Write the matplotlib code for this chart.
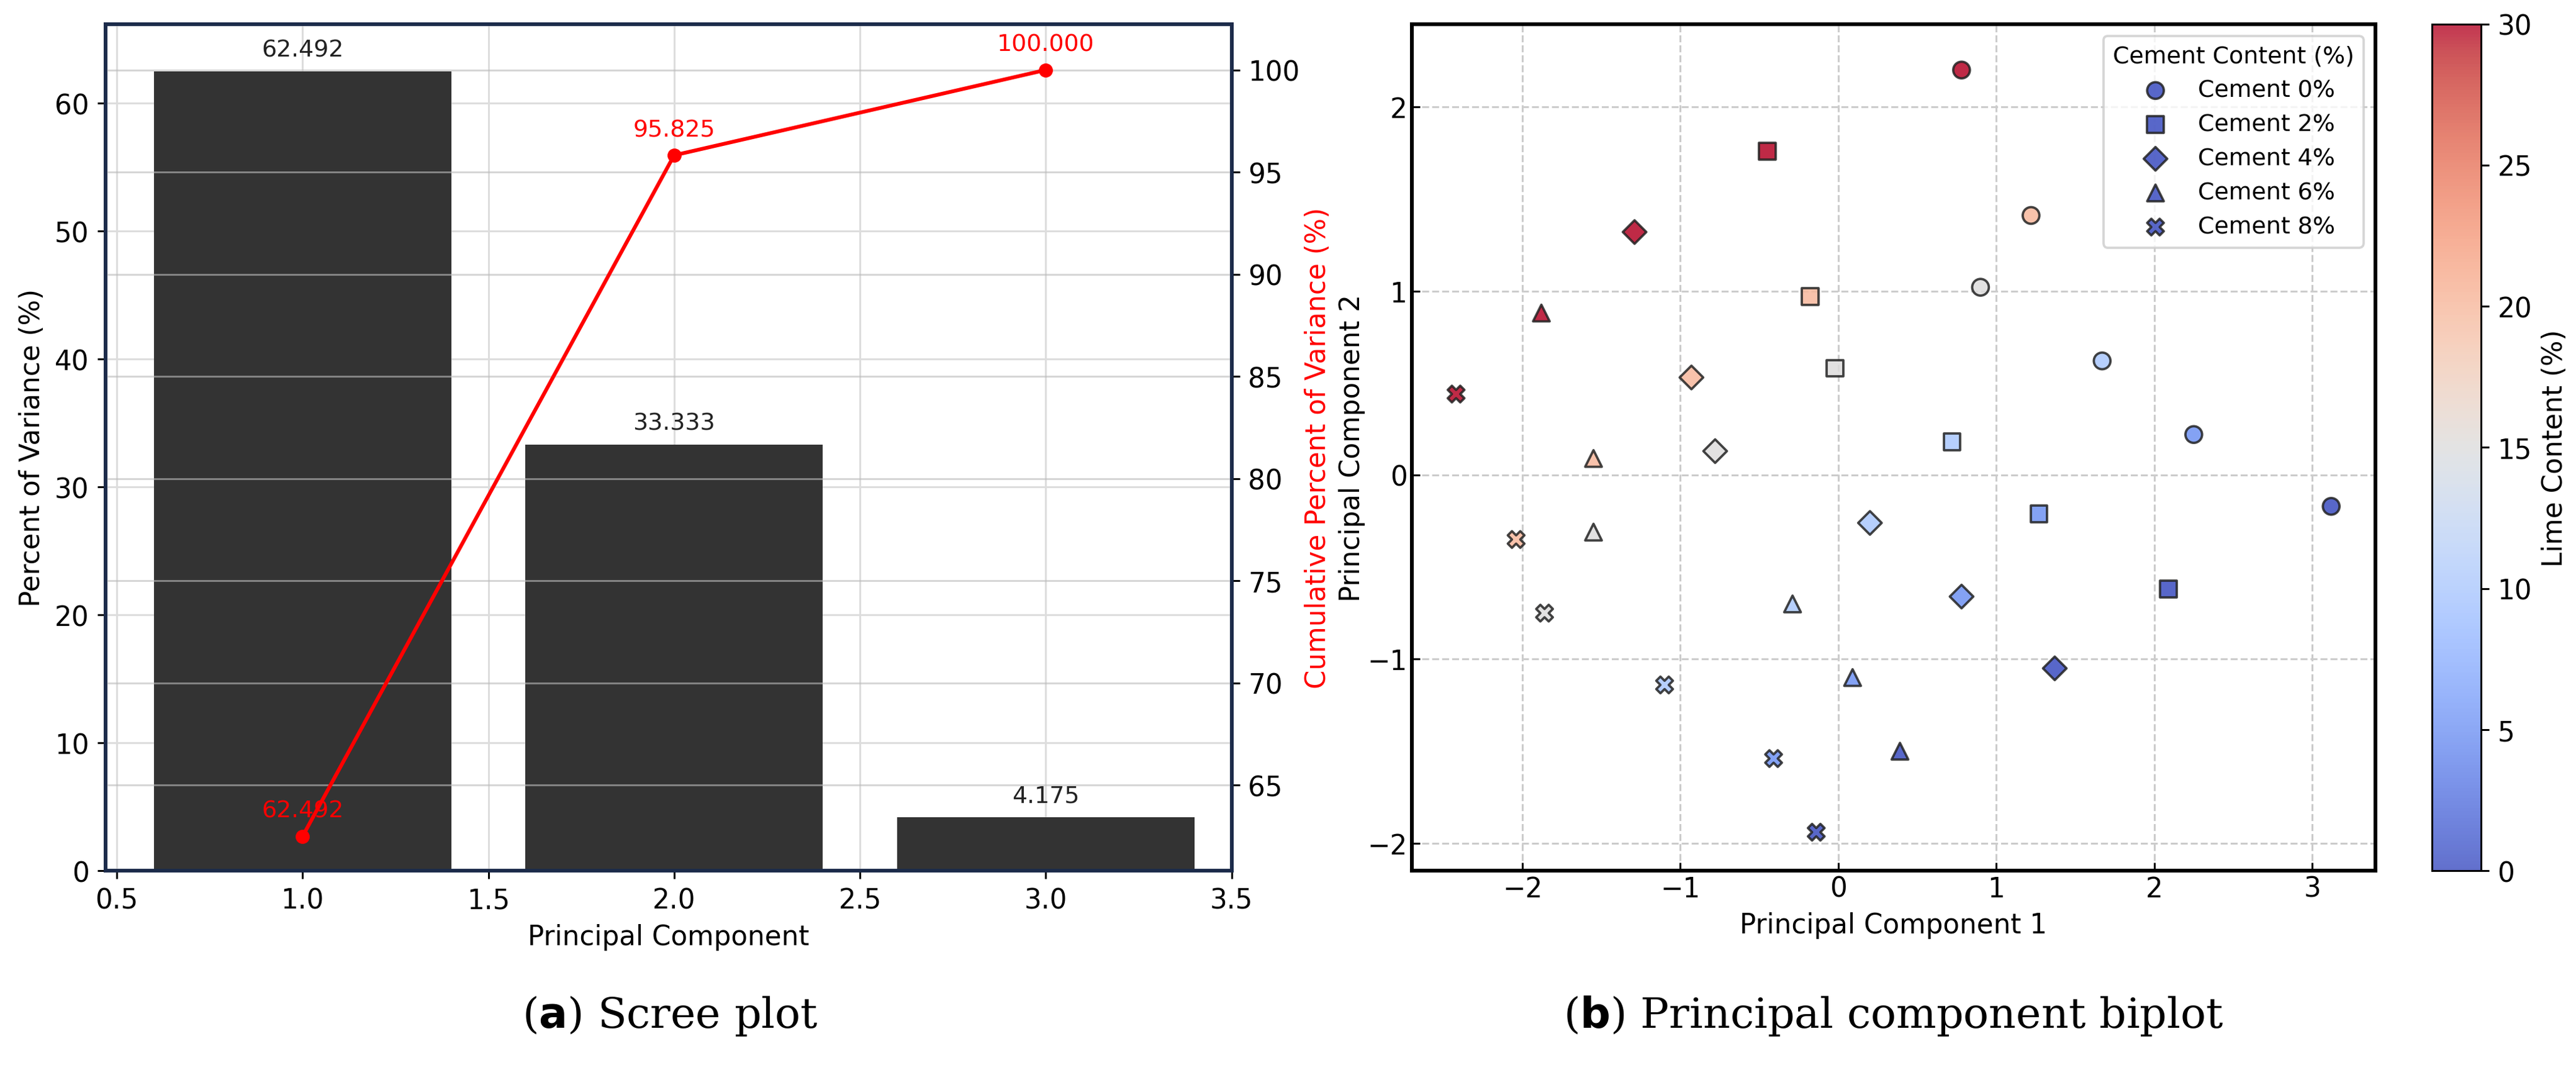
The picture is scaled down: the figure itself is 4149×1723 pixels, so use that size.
import matplotlib
matplotlib.use("Agg")
import matplotlib.pyplot as plt
from matplotlib.colors import Normalize

# scree data
components = [1, 2, 3]
variance_pct = [62.492, 33.333, 4.175]
cumulative_pct = [62.492, 95.825, 100.000]

# biplot data: one list per cement level, lime content levels shared
lime_levels = [0, 5, 10, 15, 20, 30]
cement_labels = ["Cement 0%", "Cement 2%", "Cement 4%", "Cement 6%", "Cement 8%"]
cement_markers = ["o", "s", "D", "^", "X"]
pc1_cement0 = [3.12, 2.25, 1.67, 0.90, 1.22, 0.78]
pc2_cement0 = [-0.17, 0.22, 0.62, 1.02, 1.41, 2.20]
pc1_cement2 = [2.09, 1.27, 0.72, -0.02, -0.18, -0.45]
pc2_cement2 = [-0.62, -0.21, 0.18, 0.58, 0.97, 1.76]
pc1_cement4 = [1.37, 0.78, 0.20, -0.78, -0.93, -1.29]
pc2_cement4 = [-1.05, -0.66, -0.26, 0.13, 0.53, 1.32]
pc1_cement6 = [0.39, 0.09, -0.29, -1.55, -1.55, -1.88]
pc2_cement6 = [-1.50, -1.10, -0.70, -0.31, 0.09, 0.88]
pc1_cement8 = [-0.14, -0.41, -1.10, -1.86, -2.04, -2.42]
pc2_cement8 = [-1.94, -1.54, -1.14, -0.75, -0.35, 0.44]
pc1_all = [pc1_cement0, pc1_cement2, pc1_cement4, pc1_cement6, pc1_cement8]
pc2_all = [pc2_cement0, pc2_cement2, pc2_cement4, pc2_cement6, pc2_cement8]

fig = plt.figure(figsize=(15.2, 6.315), dpi=273)

# (a) scree plot
ax = fig.add_axes([0.041, 0.186, 0.437, 0.791])
ax.bar(components, variance_pct, width=0.8, color="#333333", zorder=2)
for x, v in zip(components, variance_pct):
    ax.text(x, v + 0.8, f"{v:.3f}", ha="center", va="bottom", fontsize=10, color="#222222")
ax.set_xlim(0.47, 3.42)
ax.set_ylim(0, 66.2)
ax.set_xticks([0.5, 1.0, 1.5, 2.0, 2.5, 3.0, 3.5])
ax.set_xlabel("Principal Component", fontsize=11.5)
ax.set_ylabel("Percent of Variance (%)", fontsize=11.5)
ax.tick_params(labelsize=11.5)
ax.grid(True, color="#dddddd", lw=0.8, zorder=0)
ax.set_axisbelow(True)
for s in ax.spines.values():
    s.set_color("#1c2b4a")
    s.set_linewidth(1.5)

ax2 = ax.twinx()
ax2.plot(components, cumulative_pct, color="red", marker="o", ms=5, lw=1.6)
for x, v in zip(components, cumulative_pct):
    ax2.text(x, v + 0.7, f"{v:.3f}", ha="center", va="bottom", fontsize=10, color="red")
ax2.set_ylim(60.8, 102.25)
ax2.set_yticks([65, 70, 75, 80, 85, 90, 95, 100])
ax2.set_ylabel("Cumulative Percent of Variance (%)", color="red", fontsize=11.5, labelpad=2)
ax2.tick_params(labelsize=11.5)
ax2.grid(True, color="#bbbbbb", lw=0.8, alpha=0.6)
for s in ax2.spines.values():
    s.set_color("#1c2b4a")
    s.set_linewidth(1.5)

fig.text(0.26, 0.04, r"($\mathbf{a}$) Scree plot", ha="center", fontsize=18, family="DejaVu Serif")

# (b) biplot
bx = fig.add_axes([0.548, 0.186, 0.374, 0.791])
cmap = plt.get_cmap("coolwarm")
norm = Normalize(0, 30)
sc = None
for label, marker, xs, ys in zip(cement_labels, cement_markers, pc1_all, pc2_all):
    sc = bx.scatter(xs, ys, c=lime_levels, cmap=cmap, norm=norm, marker=marker, s=50,
                    edgecolors="#222222", linewidths=1.0, alpha=0.85, label=label, zorder=3)
bx.set_xlim(-2.7, 3.4)
bx.set_ylim(-2.15, 2.45)
bx.set_xticks([-2, -1, 0, 1, 2, 3])
bx.set_yticks([-2, -1, 0, 1, 2])
bx.set_xlabel("Principal Component 1", fontsize=11.5)
bx.set_ylabel("Principal Component 2", fontsize=11.5)
bx.yaxis.set_label_coords(-0.048, 0.5)
bx.tick_params(labelsize=11.5, direction="in", pad=2)
bx.grid(True, ls="--", color="#cccccc", lw=0.8)
for s in bx.spines.values():
    s.set_linewidth(1.6)
leg = bx.legend(title="Cement Content (%)", loc="upper right", fontsize=10, title_fontsize=10)
for h in leg.legend_handles:
    h.set_facecolor(cmap(0.1))
    h.set_alpha(0.85)

cax = fig.add_axes([0.944, 0.186, 0.019, 0.791])
cb = fig.colorbar(sc, cax=cax)
cb.solids.set_alpha(0.8)
cb.set_label("Lime Content (%)", fontsize=11.5)
cb.ax.tick_params(labelsize=11.5)

fig.text(0.735, 0.04, r"($\mathbf{b}$) Principal component biplot", ha="center", fontsize=18,
         family="DejaVu Serif")

fig.savefig("out.png", dpi=273)
